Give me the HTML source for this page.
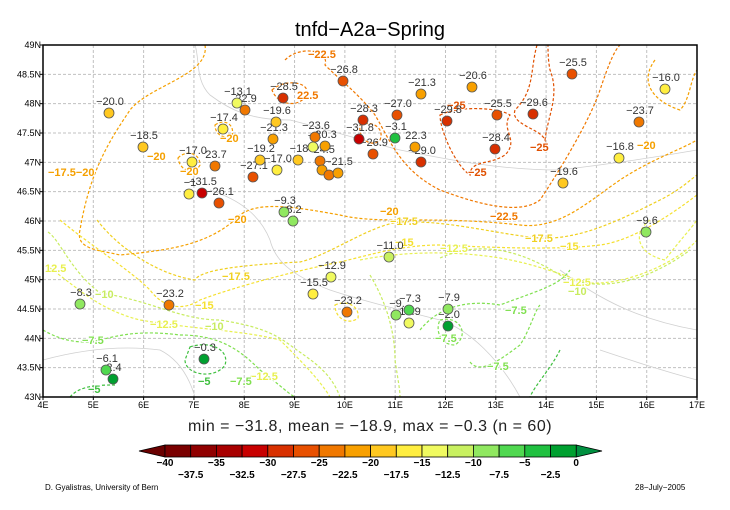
<!DOCTYPE html>
<html><head><meta charset="utf-8"><style>
html,body{margin:0;padding:0;background:#fff;}
svg{display:block;font-family:"Liberation Sans",sans-serif;}
</style></head><body>
<svg id="s" width="730" height="510" viewBox="0 0 730 510" xmlns="http://www.w3.org/2000/svg">
<text x="370" y="36" font-size="20" text-anchor="middle" fill="#000">tnfd−A2a−Spring</text>
<g id="grid" stroke="#c0c0c0" stroke-width="1" stroke-dasharray="3,2"></g>
<g fill="none" stroke="#d0d0d0" stroke-width="0.8">
<path d="M195,45 C200,60 195,80 210,95 C230,110 250,120 290,120 C330,130 360,140 400,150 C450,160 500,170 560,170 C600,165 640,160 697,150"/>
<path d="M210,190 C240,200 260,215 270,240 C275,260 290,275 330,290 C360,300 400,310 440,320 C470,330 500,360 520,397"/>
<path d="M560,270 C600,300 640,320 697,330 M600,350 C630,360 660,370 697,380"/>
<path d="M43,360 C80,350 120,345 160,350 C180,360 190,380 195,397"/>
</g>
<g fill="none" stroke-width="1.2" stroke-dasharray="3,2">
<path stroke="#f5a000" d="M205,45 C210,75 150,85 130,110 C110,140 90,170 80,230 C75,250 100,250 120,255 C170,250 210,245 240,215 C260,200 300,208 340,215 C380,225 430,215 520,225 C560,230 590,200 620,180 C650,160 680,150 697,140"/>
<path stroke="#f5a000" d="M655,60 C640,80 650,100 680,110 C690,100 690,80 697,70"/>
<path stroke="#f5a000" d="M178,158 C185,150 200,152 200,165 C195,175 180,172 178,158Z M215,125 C225,118 235,125 232,135 C225,140 215,135 215,125Z"/>
<path stroke="#f07800" d="M285,60 C300,45 330,50 325,65 C340,80 360,95 375,115 C390,140 400,170 440,190 C480,205 520,215 540,200 C560,170 590,120 600,90 C610,60 615,50 620,45"/>
<path stroke="#f07800" d="M272,90 C285,78 312,82 306,95 C300,108 278,106 272,90Z M360,125 C372,120 385,128 380,140 C372,148 358,140 360,125Z"/>
<path stroke="#e05000" d="M440,115 C460,105 500,108 510,115 C500,130 520,140 505,155 C490,165 470,160 470,175 C455,165 440,130 440,115Z"/>
<path stroke="#e05000" d="M537,45 C530,70 535,90 515,110 C510,125 540,128 545,140 C548,115 560,95 550,70 C548,60 548,50 548,45"/>
<path stroke="#f0d020" d="M97,220 C120,250 160,275 195,280 C200,270 240,265 300,262 C330,255 370,225 400,222 C450,220 500,235 540,238 C580,240 620,220 660,200 C680,190 690,180 697,175"/>
<path stroke="#f5e030" d="M60,220 C90,245 130,270 150,290 C165,310 185,310 200,300 C240,285 300,270 340,262 C370,255 400,245 440,245 C500,248 560,250 600,245 C640,240 690,200 697,195"/>
<path stroke="#f5e030" d="M335,305 C345,300 360,305 358,318 C350,325 335,320 335,305Z"/>
<path stroke="#e8f050" d="M50,268 C80,290 100,310 140,320 C200,330 240,330 280,340 C300,360 320,380 330,397"/>
<path stroke="#e8f050" d="M360,260 C400,252 450,250 500,258 C540,265 560,275 590,283 C630,285 680,260 697,240"/>
<path stroke="#e8f050" d="M650,220 C630,235 640,255 665,260 C680,240 690,230 697,220"/>
<path stroke="#c8ec60" d="M48,232 C60,240 70,270 100,293 C150,300 180,320 220,320 C250,325 270,330 290,345 C310,360 330,370 340,397"/>
<path stroke="#c8ec60" d="M440,258 C480,240 520,250 560,275 C600,295 650,280 690,250"/>
<path stroke="#c8ec60" d="M370,275 C385,300 395,330 395,360 C398,380 400,390 400,397"/>
<path stroke="#80e050" d="M43,330 C60,340 80,345 100,340 C120,335 140,330 180,335 C220,335 240,350 260,370 C280,385 290,395 295,397"/>
<path stroke="#80e050" d="M420,330 C440,305 470,300 500,305 C540,290 560,285 570,270"/>
<path stroke="#80e050" d="M440,320 C460,315 470,335 455,345 C440,345 435,330 440,320Z"/>
<path stroke="#80e050" d="M470,362 C480,375 500,360 520,345 C530,330 535,310 540,305"/>
<path stroke="#40c040" d="M190,347 C210,340 230,350 225,365 C215,380 185,375 185,360Z"/>
<path stroke="#40c040" d="M70,397 C80,385 100,385 115,385"/>
<path stroke="#40c040" d="M560,350 C550,370 535,385 530,397"/>
</g>
<g font-size="11" font-weight="bold" stroke="#fff" stroke-width="2" paint-order="stroke">
<text x="308" y="58" fill="#f07800">−22.5</text><text x="297" y="99" fill="#f07800">22.5</text>
<text x="147" y="160" fill="#f5a000">−20</text><text x="180" y="175" fill="#f5a000">−20</text><text x="220" y="142" fill="#f5a000">−20</text>
<text x="48" y="176" fill="#f5a000">−17.5−20</text><text x="380" y="215" fill="#f5a000">−20</text>
<text x="637" y="149" fill="#f5a000">−20</text><text x="228" y="223" fill="#f5a000">−20</text>
<text x="447" y="109" fill="#e05000">−25</text><text x="530" y="151" fill="#e05000">−25</text><text x="468" y="176" fill="#e05000">−25</text>
<text x="490" y="220" fill="#f07800">−22.5</text>
<text x="222" y="280" fill="#f0d020">−17.5</text><text x="525" y="242" fill="#f0d020">−17.5</text><text x="390" y="225" fill="#f0d020">−17.5</text>
<text x="195" y="309" fill="#f5e030">−15</text><text x="395" y="246" fill="#f5e030">−15</text><text x="560" y="250" fill="#f5e030">−15</text>
<text x="45" y="272" fill="#e8f050">12.5</text><text x="150" y="328" fill="#e8f050">−12.5</text><text x="250" y="380" fill="#e8f050">−12.5</text>
<text x="440" y="252" fill="#e8f050">−12.5</text><text x="563" y="286" fill="#e8f050">−12.5</text>
<text x="95" y="298" fill="#c8ec60">−10</text><text x="205" y="330" fill="#c8ec60">−10</text><text x="568" y="295" fill="#c8ec60">−10</text>
<text x="82" y="344" fill="#80e050">−7.5</text><text x="230" y="385" fill="#80e050">−7.5</text><text x="505" y="314" fill="#80e050">−7.5</text>
<text x="435" y="342" fill="#80e050">−7.5</text><text x="487" y="370" fill="#80e050">−7.5</text>
<text x="198" y="385" fill="#40c040">−5</text><text x="88" y="393" fill="#40c040">−5</text>
</g>
<g id="st"></g>
<rect x="43" y="45" width="654" height="352" fill="none" stroke="#000" stroke-width="1.5"/>
<g id="ax" font-size="9" fill="#000"></g>
<text x="370" y="431" font-size="16" text-anchor="middle" fill="#222" letter-spacing="0.5">min = −31.8, mean = −18.9, max = −0.3 (n = 60)</text>
<g id="cb"></g>
<text x="45" y="490" font-size="8" fill="#000">D. Gyalistras, University of Bern</text>
<text x="635" y="490" font-size="8" fill="#000">28−July−2005</text>
</svg>
<script>
var NS="http://www.w3.org/2000/svg";
function el(p,t,a,txt){var e=document.createElementNS(NS,t);for(var k in a)e.setAttribute(k,a[k]);if(txt!=null)e.textContent=txt;p.appendChild(e);return e;}
var cols=["#7a0000","#900000","#a80000","#c80000","#d83000","#e85000","#f07800","#f8a000","#ffc820","#ffee40","#f0fa60","#c8f060","#90e860","#50d850","#20c040","#00a030"];
var g=document.getElementById("grid"),ax=document.getElementById("ax");
for(var i=0;i<=13;i++){var x=43+i*50.31;if(i>0&&i<13)el(g,"line",{x1:x,y1:45,x2:x,y2:397});
 el(ax,"text",{x:x,y:408,"text-anchor":"middle"},(4+i)+"E");el(ax,"line",{x1:x,y1:397,x2:x,y2:400,stroke:"#000"});}
for(var j=0;j<=12;j++){var y=45+j*29.333;if(j>0&&j<12)el(g,"line",{x1:43,y1:y,x2:697,y2:y});
 var v=49-j*0.5;el(ax,"text",{x:41,y:y+3,"text-anchor":"end"},(v%1?v.toFixed(1):v)+"N");el(ax,"line",{x1:40,y1:y,x2:43,y2:y,stroke:"#000"});}
var S=[[109,113,-20.0,"−20.0"],[143,147,-18.5,"−18.5"],[237,103,-13.1,"−13.1"],[245,110,-22.9,"22.9"],[283,98,-28.5,"−28.5"],[343,81,-26.8,"−26.8"],
[276,122,-19.6,"−19.6"],[223,129,-17.4,"−17.4"],[273,139,-21.3,"−21.3"],[315,137,-23.6,"−23.6"],[325,146,-20.3,"20.3"],[313,147,-14,"−1"],
[192,162,-17.0,"−17.0"],[215,166,-23.7,"23.7"],[260,160,-19.2,"−19.2"],[298,160,-18,"−18"],[320,161,-24.5,"−24.5"],[277,170,-17.0,"−17.0"],
[253,177,-27.1,"−27.1"],[322,170,-22,""],[329,175,-25,""],[338,173,-21.5,"−21.5"],[189,194,-17,"−1"],[202,193,-31.5,"−31.5"],[219,203,-26.1,"−26.1"],
[284,212,-9.3,"−9.3"],[363,120,-28.3,"−28.3"],[359,139,-31.8,"−31.8"],[421,94,-21.3,"−21.3"],[472,87,-20.6,"−20.6"],[572,74,-25.5,"−25.5"],
[665,89,-16.0,"−16.0"],[397,115,-27.0,"−27.0"],[447,121,-29.8,"−29.8"],[497,115,-25.5,"−25.5"],[533,114,-29.6,"−29.6"],[639,122,-23.7,"−23.7"],
[395,138,-3.1,"−3.1"],[415,147,-22.3,"22.3"],[373,154,-26.9,"−26.9"],[495,149,-28.4,"−28.4"],[421,162,-29.0,"−29.0"],[619,158,-16.8,"−16.8"],
[563,183,-19.6,"−19.6"],[293,221,-8.2,"8.2"],[80,304,-8.3,"−8.3"],[169,305,-23.2,"−23.2"],[331,277,-12.9,"−12.9"],[313,294,-15.5,"−15.5"],
[347,312,-23.2,"−23.2"],[204,359,-0.3,"−0.3"],[106,370,-6.1,"−6.1"],[113,379,-2.4,"2.4"],[646,232,-9.6,"−9.6"],[389,257,-11.0,"−11.0"],
[396,315,-9,"−9."],[409,310,-7.3,"−7.3"],[409,323,-13.9,"13.9"],[448,309,-7.9,"−7.9"],[448,326,-2.0,"−2.0"]];
var st=document.getElementById("st");
S.forEach(function(s){if(s[3])el(st,"text",{x:s[0]+1,y:s[1]-8,"text-anchor":"middle","font-size":"11",fill:"#333"},s[3]);});
S.forEach(function(s){var k=Math.max(0,Math.min(15,Math.floor((s[2]+40)/2.5)));el(st,"circle",{cx:s[0],cy:s[1],r:5,fill:cols[k],stroke:"#555","stroke-width":0.8});});
var cb=document.getElementById("cb"),x0=165,w=25.7,y0=445,h=12;
el(cb,"polygon",{points:"139,451 "+x0+","+y0+" "+x0+","+(y0+h),fill:"#6a0000",stroke:"#000","stroke-width":0.8});
el(cb,"polygon",{points:"602,451 "+(x0+16*w)+","+y0+" "+(x0+16*w)+","+(y0+h),fill:"#009040",stroke:"#000","stroke-width":0.8});
for(var i=0;i<16;i++)el(cb,"rect",{x:x0+i*w,y:y0,width:w,height:h,fill:cols[i],stroke:"#000","stroke-width":0.8});
for(var i=0;i<=16;i++){var v=-40+i*2.5,x=x0+i*w;var lab=(v===0?"0":"−"+Math.abs(v));
 el(cb,"text",{x:x,y:(i%2?478:466),"text-anchor":"middle","font-size":"10","font-weight":"bold",fill:"#000"},lab);}
</script>
</body></html>
